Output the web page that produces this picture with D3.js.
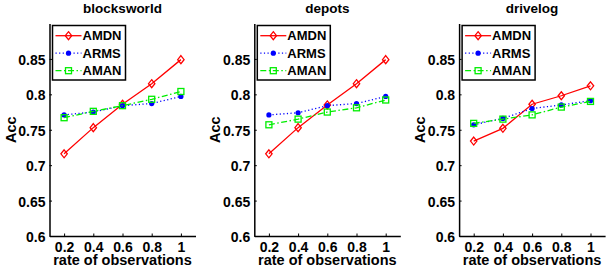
<!DOCTYPE html>
<html>
<head>
<meta charset="utf-8">
<script src="https://cdn.jsdelivr.net/npm/d3@7"></script>
<style>
  body { margin: 0; background: #fff; }
  text { font-family: 'Liberation Sans', Arial, sans-serif; font-weight: bold; }
</style>
</head>
<body>
<div id="chart"></div>
<script>
const rates = [0.2, 0.4, 0.6, 0.8, 1];
const xTickLabels = ['0.2', '0.4', '0.6', '0.8', '1'];
const yTicks = [0.6, 0.65, 0.7, 0.75, 0.8, 0.85];
const yTickLabels = ['0.6', '0.65', '0.7', '0.75', '0.8', '0.85'];
const domainNames = ['blocksworld', 'depots', 'drivelog'];
const seriesNames = ['AMDN', 'ARMS', 'AMAN'];

const blocksworldAMDN = [0.716, 0.753, 0.786, 0.815, 0.849];
const blocksworldARMS = [0.771, 0.775, 0.784, 0.787, 0.797];
const blocksworldAMAN = [0.767, 0.776, 0.784, 0.793, 0.804];

const depotsAMDN = [0.716, 0.753, 0.785, 0.815, 0.849];
const depotsARMS = [0.771, 0.774, 0.784, 0.787, 0.797];
const depotsAMAN = [0.757, 0.765, 0.775, 0.781, 0.792];

const drivelogAMDN = [0.734, 0.752, 0.786, 0.798, 0.812];
const drivelogARMS = [0.757, 0.766, 0.780, 0.785, 0.791];
const drivelogAMAN = [0.759, 0.765, 0.771, 0.782, 0.790];

const panelData = [
  [blocksworldAMDN, blocksworldARMS, blocksworldAMAN],
  [depotsAMDN, depotsARMS, depotsAMAN],
  [drivelogAMDN, drivelogARMS, drivelogAMAN],
];

const WIDTH = 606;
const HEIGHT = 268;
const PLOT_W = 146;
const TOP = 23.5;
const BOTTOM = 236;

const styles = [
  { color: '#ff0000', dash: null, marker: 'diamond' },
  { color: '#0000ff', dash: '1.2,2.4', marker: 'dot' },
  { color: '#00ee00', dash: '6,2.5,1.5,2.5', marker: 'square' },
];

const drawMarker = (g, type, color, x, y) => {
  if (type === 'diamond') {
    g.append('path')
      .attr('d', `M${x},${y - 4}L${x + 3.2},${y}L${x},${y + 4}L${x - 3.2},${y}Z`)
      .attr('fill', 'none')
      .attr('stroke', color)
      .attr('stroke-width', 1.3);
  } else if (type === 'dot') {
    g.append('circle')
      .attr('cx', x).attr('cy', y).attr('r', 2.6)
      .attr('fill', color);
  } else {
    g.append('rect')
      .attr('x', x - 3).attr('y', y - 3)
      .attr('width', 6).attr('height', 6)
      .attr('fill', 'none')
      .attr('stroke', color)
      .attr('stroke-width', 1.3);
  }
};

const svg = d3.select('#chart').append('svg')
  .attr('width', WIDTH).attr('height', HEIGHT);

domainNames.forEach((name, i) => {
  const left = 49.5 + i * 204.8;

  const xScale = d3.scaleLinear().domain([0.1, 1.1]).range([left, left + PLOT_W]);
  const yScale = d3.scaleLinear().domain([0.6, 0.9]).range([BOTTOM, TOP]);

  const g = svg.append('g');

  g.append('g')
    .attr('transform', `translate(0,${BOTTOM})`)
    .call(d3.axisBottom(xScale)
      .tickValues(rates)
      .tickFormat((d, j) => xTickLabels[j])
      .tickSizeInner(-2.5).tickSizeOuter(0).tickPadding(6.5))
    .call((a) => a.selectAll('text').attr('font-size', 14).attr('fill', '#000'));

  g.append('g')
    .attr('transform', `translate(${left},0)`)
    .call(d3.axisLeft(yScale)
      .tickValues(yTicks)
      .tickFormat((d, j) => yTickLabels[j])
      .tickSizeInner(-2.5).tickSizeOuter(0).tickPadding(4))
    .call((a) => a.selectAll('text').attr('font-size', 14).attr('fill', '#000').attr('dy', '0.4em'));

  g.selectAll('.domain').attr('stroke', '#000').attr('stroke-width', 1.5);
  g.selectAll('.tick line').attr('stroke', '#000');

  g.append('text')
    .attr('x', left + PLOT_W / 2).attr('y', 12.5)
    .attr('text-anchor', 'middle').attr('font-size', 13.5)
    .text(name);

  g.append('text')
    .attr('x', left + PLOT_W / 2).attr('y', 264.5)
    .attr('text-anchor', 'middle').attr('font-size', 14.5)
    .text('rate of observations');

  g.append('text')
    .attr('transform', `translate(${left - 34},${(TOP + BOTTOM) / 2}) rotate(-90)`)
    .attr('text-anchor', 'middle').attr('font-size', 14.5)
    .text('Acc');

  panelData[i].forEach((values, s) => {
    const st = styles[s];
    const line = d3.line().x((d, j) => xScale(rates[j])).y((d) => yScale(d));
    g.append('path')
      .attr('d', line(values))
      .attr('fill', 'none')
      .attr('stroke', st.color)
      .attr('stroke-width', 1.3)
      .attr('stroke-dasharray', st.dash);
    values.forEach((v, j) => drawMarker(g, st.marker, st.color, xScale(rates[j]), yScale(v)));
  });

  // legend
  const lx = left + 3;
  const legend = g.append('g');
  legend.append('rect')
    .attr('x', lx).attr('y', 25.5)
    .attr('width', 73).attr('height', 54.5)
    .attr('fill', '#fff').attr('stroke', '#000').attr('stroke-width', 1.5);
  seriesNames.forEach((sname, s) => {
    const st = styles[s];
    const ly = 35.7 + s * 17.5;
    legend.append('line')
      .attr('x1', lx + 3).attr('x2', lx + 29)
      .attr('y1', ly).attr('y2', ly)
      .attr('stroke', st.color).attr('stroke-width', 1.3)
      .attr('stroke-dasharray', st.dash);
    drawMarker(legend, st.marker, st.color, lx + 16, ly);
    legend.append('text')
      .attr('x', lx + 30).attr('y', ly)
      .attr('dy', '0.36em').attr('font-size', 13)
      .text(sname);
  });
});
</script>
</body>
</html>
